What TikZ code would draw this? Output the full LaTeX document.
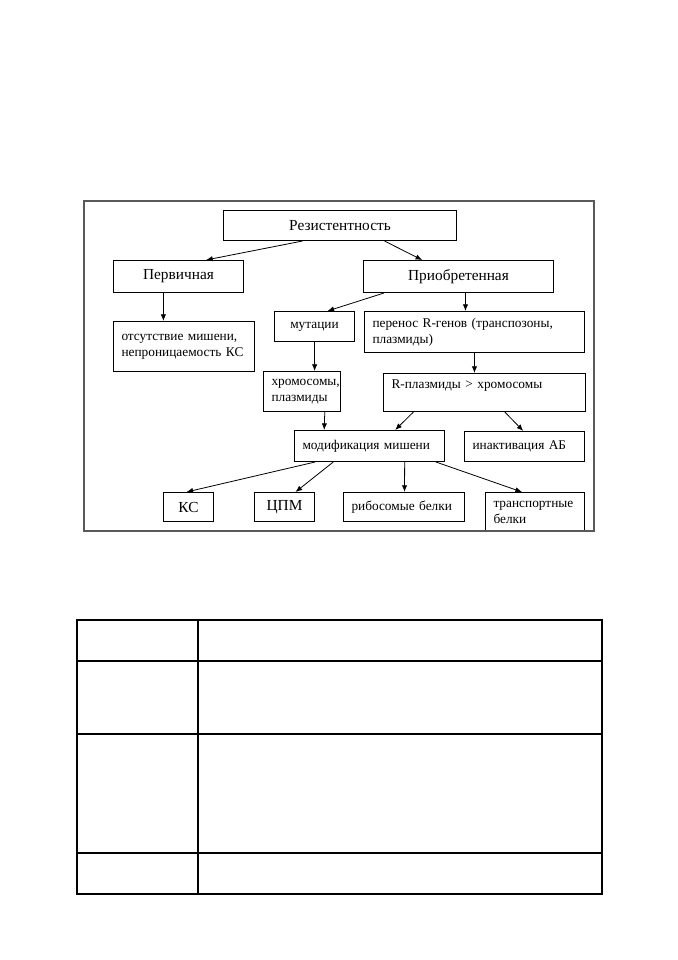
\documentclass[tikz,border=0pt]{standalone}
\usepackage{fontspec}
\setmainfont{Liberation Serif}
\usetikzlibrary{arrows.meta,positioning,calc}

\begin{document}
\begin{tikzpicture}[x=0.75pt, y=-0.75pt,
    box/.style={draw, line width=0.75pt, anchor=north west, inner xsep=6pt, inner ysep=2pt, font=\fontsize{10}{12}\selectfont},
    head/.style={box, align=center, font=\fontsize{11.5}{13}\selectfont},
    txt/.style={box, align=left, text width=#1},
    arr/.style={line width=0.6pt, -{Latex[length=5pt,width=4pt]}}]
\useasboundingbox (0,0) rectangle (678,960);

\node[head, minimum width=174.75pt, minimum height=22.5pt] (rez) at (223,210) {Резистентность};
\node[head, minimum width=97.5pt, minimum height=24pt] (perv) at (113,260) {Первичная};
\node[head, minimum width=142.5pt, minimum height=24pt] (priob) at (363,260) {Приобретенная};
\node[txt=93.75pt, minimum height=37.5pt] (ots) at (113,321) {отсутствие мишени,\\непроницаемость КС};
\node[box, align=center, minimum width=60pt, minimum height=22.5pt] (mut) at (274,311) {мутации};
\node[txt=153pt, minimum height=30.75pt] (per) at (364,311) {перенос R-генов (транспозоны,\\плазмиды)};
\node[txt=45.75pt, minimum height=30pt] (chrom) at (263,371) {хромосомы,\\плазмиды};
\node[txt=139.5pt, minimum height=28.5pt, text depth=13pt] (rpl) at (383,373) {R-плазмиды > хромосомы};
\node[txt=100.5pt, minimum height=23.25pt] (mod) at (294,430) {модификация мишени};
\node[txt=78pt, minimum height=22.5pt] (inakt) at (464,431) {инактивация АБ};
\node[head, minimum width=37.5pt, minimum height=21.75pt] (ks) at (163,492) {КС};
\node[head, minimum width=45pt, minimum height=21.75pt] (cpm) at (254,492) {ЦПМ};
\node[txt=78.75pt, minimum height=21.75pt] (rib) at (343,492) {рибосомые белки};
\node[txt=62.25pt, minimum height=29.25pt] (tr) at (485,492) {транспортные\\белки};

\draw[arr] ($(rez.south west)!0.34!(rez.south east)$) -- ($(perv.north west)!0.71!(perv.north east)$);
\draw[arr] ($(rez.south west)!0.69!(rez.south east)$) -- ($(priob.north west)!0.31!(priob.north east)$);
\draw[arr] ($(perv.south west)!0.385!(perv.south east)$) -- ($(ots.north west)!0.355!(ots.north east)$);
\draw[arr] ($(priob.south west)!0.11!(priob.south east)$) -- ($(mut.north west)!0.66!(mut.north east)$);
\draw[arr] ($(priob.south west)!0.537!(priob.south east)$) -- ($(per.north west)!0.459!(per.north east)$);
\draw[arr] (mut.south) -- ($(chrom.north west)!0.662!(chrom.north east)$);
\draw[arr] (per.south) -- ($(rpl.north west)!0.4505!(rpl.north east)$);
\draw[arr] ($(chrom.south west)!0.792!(chrom.south east)$) -- ($(mod.north west)!0.2!(mod.north east)$);
\draw[arr] ($(rpl.south west)!0.15!(rpl.south east)$) -- ($(mod.north west)!0.67!(mod.north east)$);
\draw[arr] ($(rpl.south west)!0.6!(rpl.south east)$) -- ($(inakt.north west)!0.49!(inakt.north east)$);
\draw[arr] ($(mod.south west)!0.14!(mod.south east)$) -- ($(ks.north west)!0.46!(ks.north east)$);
\draw[arr] ($(mod.south west)!0.26!(mod.south east)$) -- ($(cpm.north west)!0.68!(cpm.north east)$);
\draw[arr] ($(mod.south west)!0.733!(mod.south east)$) -- ($(rib.north west)!0.504!(rib.north east)$);
\draw[arr] ($(mod.south west)!0.94!(mod.south east)$) -- ($(tr.north west)!0.37!(tr.north east)$);

\draw[black!65, line width=1.1pt] (84,201) rectangle (594,531);

\draw[line width=1pt] (77,620) rectangle (602,894);
\draw[line width=1.6pt] (198,620) -- (198,894);
\draw[line width=1.6pt] (77,661) -- (602,661);
\draw[line width=1.6pt] (77,734) -- (602,734);
\draw[line width=1pt] (77,853) -- (602,853);
\end{tikzpicture}
\end{document}
